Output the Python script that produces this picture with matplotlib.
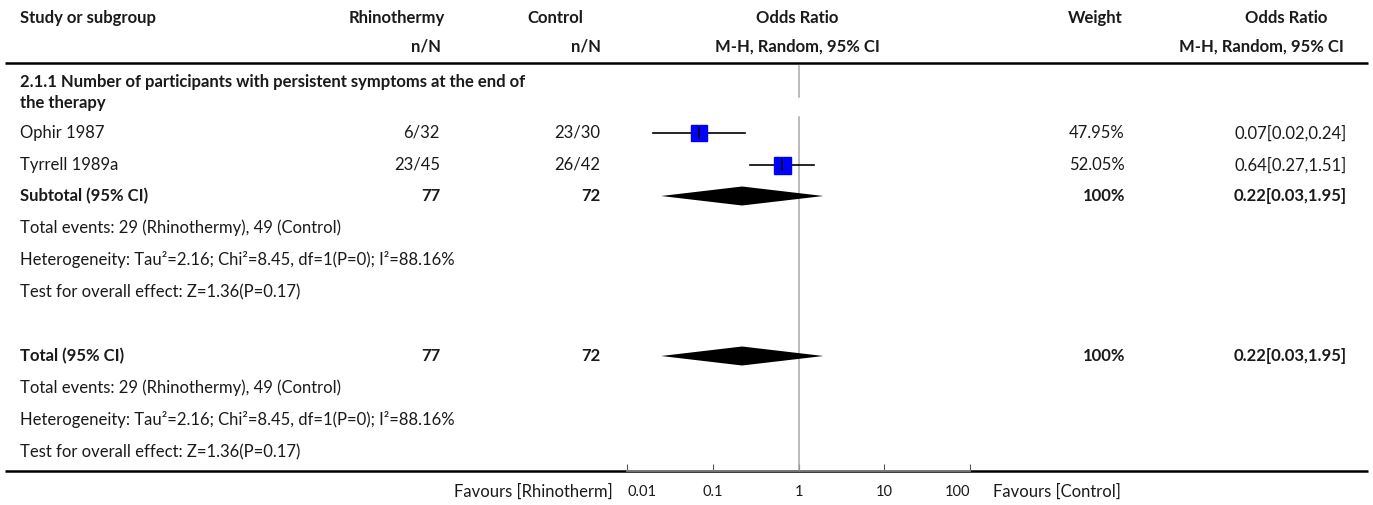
import matplotlib
matplotlib.use("Agg")
import matplotlib.pyplot as plt
import numpy as np

plt.rcParams['font.family'] = ['Lato', 'DejaVu Sans']

# ---- data ----
studies = ["Ophir 1987", "Tyrrell 1989a"]
rhino_nN = ["6/32", "23/45"]
control_nN = ["23/30", "26/42"]
weights = [47.95, 52.05]
weight_labels = ["47.95%", "52.05%"]
or_est = [0.07, 0.64]
or_low = [0.02, 0.27]
or_high = [0.24, 1.51]
or_labels = ["0.07[0.02,0.24]", "0.64[0.27,1.51]"]

subtotal_N = ["77", "72"]
pooled_est = 0.22
pooled_low = 0.025
pooled_high = 1.95
pooled_label = "0.22[0.03,1.95]"

xticks = [0.01, 0.1, 1, 10, 100]
xtick_labels = ["0.01", "0.1", "1", "10", "100"]

subgroup_title = ["2.1.1 Number of participants with persistent symptoms at the end of", "the therapy"]
total_events = "Total events: 29 (Rhinothermy), 49 (Control)"
heterogeneity = "Heterogeneity: Tau\u00b2=2.16; Chi\u00b2=8.45, df=1(P=0); I\u00b2=88.16%"
overall = "Test for overall effect: Z=1.36(P=0.17)"

W, H = 1373, 505
fig = plt.figure(figsize=(W / 100, H / 100), dpi=100)

# text layer in pixel coordinates
tx = fig.add_axes([0, 0, 1, 1])
tx.set_xlim(0, W)
tx.set_ylim(H, 0)
tx.axis('off')

FS = 12
def t(x, y, s, ha='left', bold=False, fs=FS):
    tx.text(x, y, s, ha=ha, va='center', fontsize=fs,
            fontweight='bold' if bold else 'normal', color='#1a1a1a')

# header
t(20, 18, "Study or subgroup", bold=True)
t(397, 18, "Rhinothermy", ha='center', bold=True)
t(555, 18, "Control", ha='center', bold=True)
t(797, 18, "Odds Ratio", ha='center', bold=True)
t(1095, 18, "Weight", ha='center', bold=True)
t(1286, 18, "Odds Ratio", ha='center', bold=True)
t(441, 47, "n/N", ha='right', bold=True)
t(601, 47, "n/N", ha='right', bold=True)
t(797, 47, "M-H, Random, 95% CI", ha='center', bold=True)
t(1344, 47, "M-H, Random, 95% CI", ha='right', bold=True)
tx.plot([5, 1368], [63, 63], color='black', lw=1.8, solid_capstyle='butt')

# subgroup
t(20, 82, subgroup_title[0], bold=True)
t(20, 103, subgroup_title[1], bold=True)

row_y = [133, 165]
for i in range(len(studies)):
    y = row_y[i]
    t(20, y, studies[i])
    t(440, y, rhino_nN[i], ha='right')
    t(600, y, control_nN[i], ha='right')
    t(1125, y, weight_labels[i], ha='right')
    t(1347, y, or_labels[i], ha='right')

for (ytot, label) in [(196, "Subtotal (95% CI)"), (356, "Total (95% CI)")]:
    t(20, ytot, label, bold=True)
    t(440, ytot, subtotal_N[0], ha='right', bold=True)
    t(600, ytot, subtotal_N[1], ha='right', bold=True)
    t(1125, ytot, "100%", ha='right', bold=True)
    t(1347, ytot, pooled_label, ha='right', bold=True)

for base in [228, 388]:
    t(20, base, total_events)
    t(20, base + 32, heterogeneity)
    t(20, base + 64, overall)

# bottom line
tx.plot([5, 1368], [471, 471], color='black', lw=1.8, solid_capstyle='butt')
t(613, 492, "Favours [Rhinotherm]", ha='right')
t(993, 492, "Favours [Control]", ha='left')

# forest axes
x0, x1 = 627, 970
ax = fig.add_axes([x0 / W, (H - 471) / H, (x1 - x0) / W, 471 / H])
ax.patch.set_alpha(0)
ax.set_xscale('log')
ax.set_xlim(0.01, 100)
ax.set_ylim(471, 0)
for s in ['top', 'left', 'right']:
    ax.spines[s].set_visible(False)
ax.spines['bottom'].set_color('#888888')
ax.spines['bottom'].set_linewidth(1.2)
ax.set_yticks([])
ax.set_xticks(xticks)
ax.set_xticklabels(xtick_labels)
ax.minorticks_off()
ax.tick_params(axis='x', direction='in', length=5, color='#555555', labelsize=10.5,
               labelcolor='#1a1a1a', pad=10)
labels = ax.get_xticklabels()
labels[0].set_horizontalalignment('left')
labels[-1].set_horizontalalignment('right')

# line of no effect (segments per row)
segs = [(66, 97), (117, 148), (149, 181), (182, 213), (214, 245), (246, 277), (278, 309),
        (310, 341), (342, 373), (374, 405), (406, 437), (438, 471)]
for a, b in segs:
    ax.plot([1, 1], [a, b], color='#aaaaaa', lw=1.1)

# studies
for i in range(len(studies)):
    y = row_y[i]
    ax.plot([or_low[i], or_high[i]], [y, y], color='black', lw=1.2, zorder=2)
    size = 16 + (weights[i] - 47.95) / (52.05 - 47.95)
    ax.plot([or_est[i]], [y], marker='s', ms=size * 0.72, color='#0000ff',
            mec='#0000ff', zorder=3, linestyle='none')
    ax.plot([or_est[i], or_est[i]], [y - 5, y + 5], color='black', lw=1.2, zorder=4)

# diamonds
for yd in [196, 356]:
    ax.fill([pooled_low, pooled_est, pooled_high, pooled_est],
            [yd, yd - 9.5, yd, yd + 9.5], color='black', zorder=3, lw=0)

fig.savefig("out.png", dpi=100)
